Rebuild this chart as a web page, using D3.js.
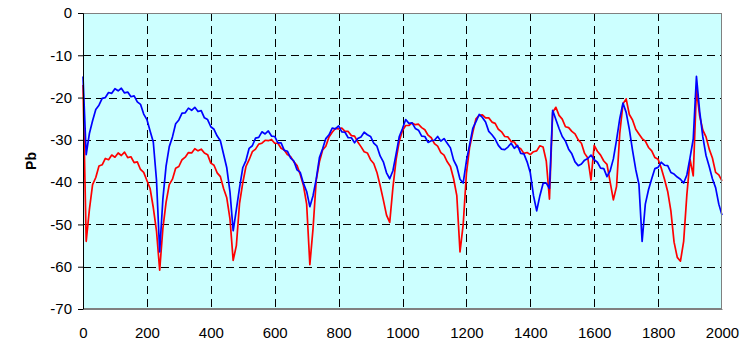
<!DOCTYPE html>
<html>
<head>
<meta charset="utf-8">
<script src="https://cdn.jsdelivr.net/npm/d3@7"></script>
<style>
  html, body { margin: 0; padding: 0; background: #ffffff; }
  svg { display: block; }
  text { font-family: "Liberation Sans", Arial, sans-serif; }
</style>
</head>
<body>
<svg id="chart" width="752" height="340"></svg>
<script>
// ---- data ----
const xStep = 10;                 // sample spacing along the x axis
const xTicks = [0, 200, 400, 600, 800, 1000, 1200, 1400, 1600, 1800, 2000];
const yTicks = [0, -10, -20, -30, -40, -50, -60, -70];
const yLabel = "Pb";

const blueValues = [
 -15,-33.5,-28.5,-25.5,-22.8,-21.8,-20.2,-20.0,-18.8,-19.0,
 -17.9,-18.4,-17.8,-18.9,-18.7,-19.8,-19.6,-21.0,-21.6,-23.9,
 -25.2,-27.9,-30.5,-39.5,-56.5,-44.0,-36.2,-31.6,-29.3,-26.2,
 -25.3,-23.7,-23.6,-22.5,-23.0,-22.3,-23.3,-23.1,-24.8,-25.2,
 -26.9,-27.5,-29.1,-30.2,-33.4,-36.6,-42.3,-51.5,-46.5,-41.3,
 -36.6,-34.9,-32.0,-31.4,-29.6,-29.4,-28.1,-28.6,-27.9,-29.1,
 -29.2,-30.7,-30.7,-32.5,-32.7,-34.3,-35.0,-37.1,-37.7,-40.3,
 -42.2,-45.8,-43.2,-39.3,-34.2,-32.1,-29.7,-28.8,-27.2,-27.4,
 -26.7,-28.1,-28.2,-29.5,-29.5,-30.7,-29.7,-29.3,-28.2,-28.8,
 -29.2,-30.8,-31.5,-33.8,-35.2,-37.8,-39.2,-37.3,-33.3,-29.2,
 -27.3,-25.2,-26.1,-26.0,-27.3,-27.7,-29.1,-29.2,-30.6,-30.2,
 -30.1,-29.2,-30.3,-29.7,-30.8,-31.9,-34.8,-36.3,-39.3,-40.2,
 -35.0,-31.2,-27.3,-25.7,-24.0,-24.7,-25.8,-28.0,-28.8,-29.8,
 -31.3,-32.2,-32.3,-31.7,-30.8,-32.0,-31.3,-33.2,-33.3,-35.2,
 -37.8,-43.2,-46.8,-43.2,-40.3,-40.2,-41.5,-23.0,-25.2,-27.3,
 -29.2,-30.3,-32.2,-33.3,-35.2,-36.1,-35.7,-34.8,-34.4,-33.6,
 -34.7,-35.3,-36.7,-36.8,-38.7,-37.3,-34.5,-30.0,-25.0,-21.3,
 -23.5,-27.5,-32.5,-37.0,-40.5,-54.0,-45.2,-41.8,-39.2,-36.8,
 -36.5,-35.3,-36.0,-36.1,-37.7,-38.1,-38.8,-39.3,-40.2,-38.3,
 -34.2,-29.8,-15.0,-23.2,-29.3,-33.7,-36.3,-39.2,-41.3,-45.2,
 -47.8
];

const redValues = [
 -17,-54,-46.5,-40.6,-38.9,-36.2,-35.9,-34.4,-34.7,-33.6,
 -34.1,-33.1,-33.7,-32.9,-34.2,-34.0,-35.4,-35.2,-37.0,-37.7,
 -39.6,-41.5,-46.0,-51.5,-60.8,-51.0,-44.8,-40.6,-39.3,-36.7,
 -36.3,-34.7,-34.1,-33.0,-33.1,-32.1,-32.6,-32.2,-33.1,-33.5,
 -35.5,-36.0,-37.8,-38.7,-41.5,-43.7,-48.7,-58.5,-55.0,-45.0,
 -40.2,-36.3,-34.7,-32.8,-32.2,-31.0,-30.8,-30.1,-30.2,-29.9,
 -30.8,-30.8,-32.0,-32.4,-33.5,-34.0,-35.2,-36.1,-38.2,-40.8,
 -45.2,-59.5,-51.0,-39.5,-35.2,-32.4,-31.5,-29.3,-28.2,-27.3,
 -27.4,-27.2,-28.0,-28.0,-29.0,-29.1,-30.5,-31.6,-32.8,-33.1,
 -34.7,-35.6,-37.7,-40.8,-44.2,-47.8,-49.5,-41.3,-34.7,-30.3,
 -27.8,-26.6,-26.6,-26.0,-26.4,-26.3,-27.1,-27.6,-28.9,-29.5,
 -30.9,-31.5,-33.0,-33.6,-35.2,-36.3,-39.2,-43.2,-56.5,-50.0,
 -38.0,-31.8,-28.2,-25.0,-24.2,-24.1,-24.8,-24.8,-25.8,-26.1,
 -27.5,-28.1,-29.2,-29.3,-30.4,-30.5,-31.7,-32.1,-33.2,-33.0,
 -33.5,-32.8,-32.6,-31.4,-31.7,-35.0,-44.0,-23.5,-22.3,-24.2,
 -25.1,-26.9,-27.1,-28.0,-28.6,-30.0,-30.8,-33.2,-34.3,-39.5,
 -31.3,-32.7,-33.6,-35.0,-35.8,-40.0,-44.2,-41.0,-28.5,-21.5,
 -20.3,-24.0,-25.3,-27.5,-28.6,-29.7,-30.3,-31.8,-32.6,-34.2,
 -34.6,-36.7,-39.3,-42.2,-46.8,-54.2,-57.8,-58.7,-54.0,-43.0,
 -34.6,-38.5,-18.0,-24.3,-27.7,-29.3,-32.2,-34.3,-37.7,-38.3,
 -39.7
];

// ---- layout ----
const W = 752, H = 340;
const margin = { top: 13, right: 30, bottom: 31, left: 83 };
const iw = W - margin.left - margin.right;
const ih = H - margin.top - margin.bottom;

const svg = d3.select("#chart");
const g = svg.append("g").attr("transform", `translate(${margin.left},${margin.top})`);

const x = d3.scaleLinear().domain([0, 2000]).range([0, iw]);
const y = d3.scaleLinear().domain([-70, 0]).range([ih, 0]);

// plot background
g.append("rect")
  .attr("x", 0).attr("y", 0).attr("width", iw).attr("height", ih)
  .attr("fill", "#ccffff");

// gridlines
g.append("g").selectAll("line")
  .data(yTicks.filter(v => v !== 0 && v !== -70))
  .join("line")
  .attr("x1", 0).attr("x2", iw)
  .attr("y1", d => Math.round(y(d)) + 0.5).attr("y2", d => Math.round(y(d)) + 0.5)
  .attr("stroke", "#000").attr("stroke-width", 1).attr("stroke-dasharray", "8,5");

g.append("g").selectAll("line")
  .data(xTicks.filter(v => v !== 0 && v !== 2000))
  .join("line")
  .attr("y1", 0).attr("y2", ih)
  .attr("x1", d => Math.round(x(d)) + 0.5).attr("x2", d => Math.round(x(d)) + 0.5)
  .attr("stroke", "#000").attr("stroke-width", 1).attr("stroke-dasharray", "8,5");

// series
const line = d3.line()
  .x((d, i) => x(i * xStep))
  .y(d => y(d));

g.append("path").datum(redValues)
  .attr("fill", "none").attr("stroke", "#ff0000").attr("stroke-width", 1.7)
  .attr("stroke-linejoin", "round").attr("d", line);

g.append("path").datum(blueValues)
  .attr("fill", "none").attr("stroke", "#0000ff").attr("stroke-width", 1.7)
  .attr("stroke-linejoin", "round").attr("d", line);

// plot frame (grey)
g.append("rect")
  .attr("x", 0.5).attr("y", 0.5).attr("width", iw - 1).attr("height", ih - 1)
  .attr("fill", "none").attr("stroke", "#808080").attr("stroke-width", 1);

// y axis
const yAxis = d3.axisLeft(y).tickValues(yTicks).tickSize(5).tickPadding(6).tickFormat(d => String(d));
const ya = g.append("g").call(yAxis);
ya.select(".domain").attr("stroke", "#000");
ya.selectAll(".tick line").attr("stroke", "#000");
ya.selectAll("text").attr("font-size", 15).attr("fill", "#000")
  .style("font-family", "'Liberation Sans', Arial, sans-serif");

// x axis
const xAxis = d3.axisBottom(x).tickValues(xTicks).tickSize(0).tickPadding(18).tickFormat(d => String(d));
const xa = g.append("g").attr("transform", `translate(0,${ih})`).call(xAxis);
xa.select(".domain").attr("stroke", "#808080");
xa.selectAll("text").attr("font-size", 15).attr("fill", "#000")
  .style("font-family", "'Liberation Sans', Arial, sans-serif");

// y label
svg.append("text")
  .attr("transform", `translate(36,161) rotate(-90)`)
  .attr("text-anchor", "middle")
  .attr("font-size", 14).attr("font-weight", "bold")
  .attr("fill", "#000")
  .text(yLabel);
</script>
</body>
</html>
